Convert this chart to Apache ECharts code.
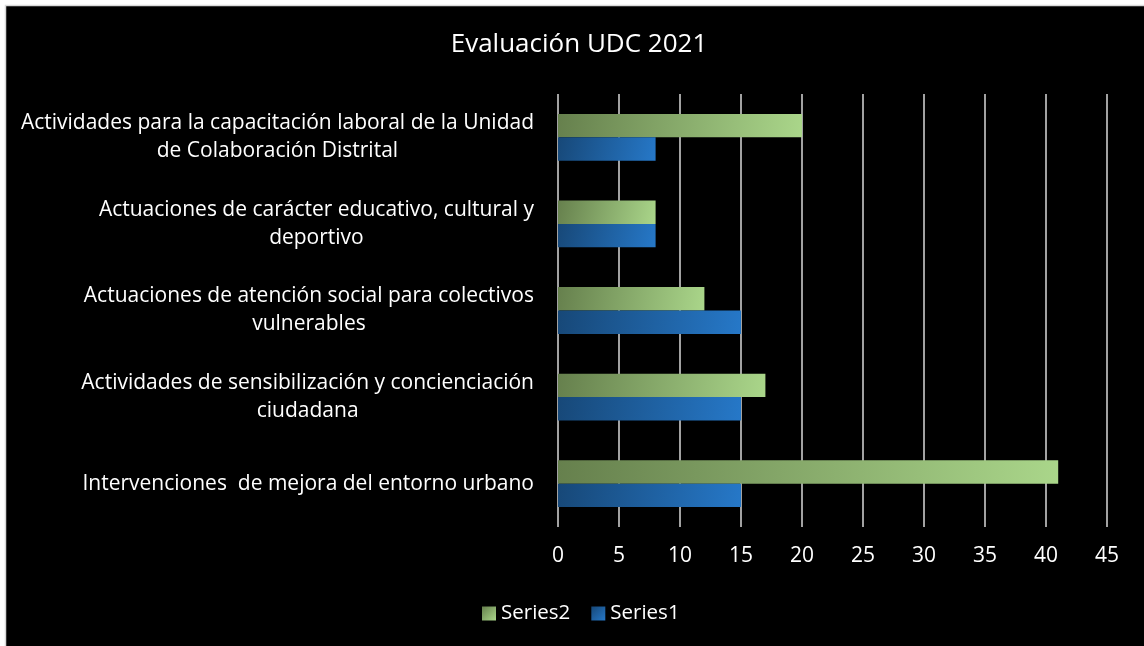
<!DOCTYPE html>
<html>
  <head>
    <meta charset="utf-8" />
    <title>Evaluación UDC 2021</title>
    <script src="https://cdn.jsdelivr.net/npm/echarts@6/dist/echarts.min.js"></script>
    <style>
      html, body { margin: 0; padding: 0; background: #fff; }
    </style>
  </head>
  <body>
    <div id="main" style="width: 1144px;height:646px;"></div>
    <script type="text/javascript">
      // categorias, de abajo hacia arriba (eje Y de ECharts)
      var categories = [
        'Intervenciones  de mejora del entorno urbano',
        'Actividades de sensibilización y concienciación\nciudadana',
        'Actuaciones de atención social para colectivos\nvulnerables',
        'Actuaciones de carácter educativo, cultural y\ndeportivo',
        'Actividades para la capacitación laboral de la Unidad\nde Colaboración Distrital'
      ];
      var series1 = [15, 15, 15, 8, 8];
      var series2 = [41, 17, 12, 8, 20];
      var xTicks = { min: 0, max: 45, interval: 5 };

      var myChart = echarts.init(document.getElementById('main'));

      var fontFamily = '"Open Sans", Lato, sans-serif';

      function grad(c1, c2) {
        return new echarts.graphic.LinearGradient(0, 0, 1, 1, [
          { offset: 0, color: c1 },
          { offset: 1, color: c2 }
        ]);
      }

      var option = {
        backgroundColor: '#fff',
        animation: false,
        graphic: [
          {
            type: 'rect',
            z: -10,
            silent: true,
            shape: { x: 5.5, y: 5.5, width: 1150, height: 660 },
            style: { fill: '#000', stroke: '#d9d9d9', lineWidth: 1.5 }
          }
        ],
        title: {
          text: 'Evaluación UDC 2021',
          left: 574,
          textAlign: 'center',
          top: 27,
          textStyle: { color: '#fff', fontSize: 26, fontWeight: 'normal', fontFamily: fontFamily }
        },
        legend: {
          data: ['Series2', 'Series1'],
          bottom: 17,
          left: 477,
          itemWidth: 14,
          itemHeight: 14,
          itemGap: 21,
          icon: 'rect',
          textStyle: { color: '#fff', fontSize: 20.5, fontFamily: fontFamily }
        },
        grid: {
          left: 558,
          right: 37,
          top: 94,
          bottom: 119,
          containLabel: false
        },
        xAxis: {
          type: 'value',
          min: xTicks.min,
          max: xTicks.max,
          interval: xTicks.interval,
          axisLine: { show: false },
          axisTick: { show: false },
          splitLine: { show: true, lineStyle: { color: '#d9d9d9', width: 1.5 } },
          axisLabel: { color: '#fff', fontSize: 21, fontFamily: fontFamily, margin: 19 }
        },
        yAxis: {
          type: 'category',
          data: categories,
          axisLine: { show: false },
          axisTick: { show: false },
          axisLabel: {
            color: '#fff',
            fontSize: 21,
            fontFamily: fontFamily,
            margin: 24,
            lineHeight: 28,
            formatter: function (v) {
              return v.split('\n').map(function (l) { return '{c|' + l + '}'; }).join('\n');
            },
            rich: {
              c: { align: 'center', color: '#fff', fontSize: 21, fontFamily: fontFamily, lineHeight: 28 }
            }
          }
        },
        series: [
          {
            name: 'Series2',
            type: 'bar',
            data: series2,
            barGap: '0%',
            barCategoryGap: '46%',
            itemStyle: { color: grad('#66804d', '#aad68a') }
          },
          {
            name: 'Series1',
            type: 'bar',
            data: series1,
            barGap: '0%',
            barCategoryGap: '46%',
            itemStyle: { color: grad('#174878', '#2678c8') }
          }
        ]
      };

      myChart.setOption(option);
    </script>
  </body>
</html>
